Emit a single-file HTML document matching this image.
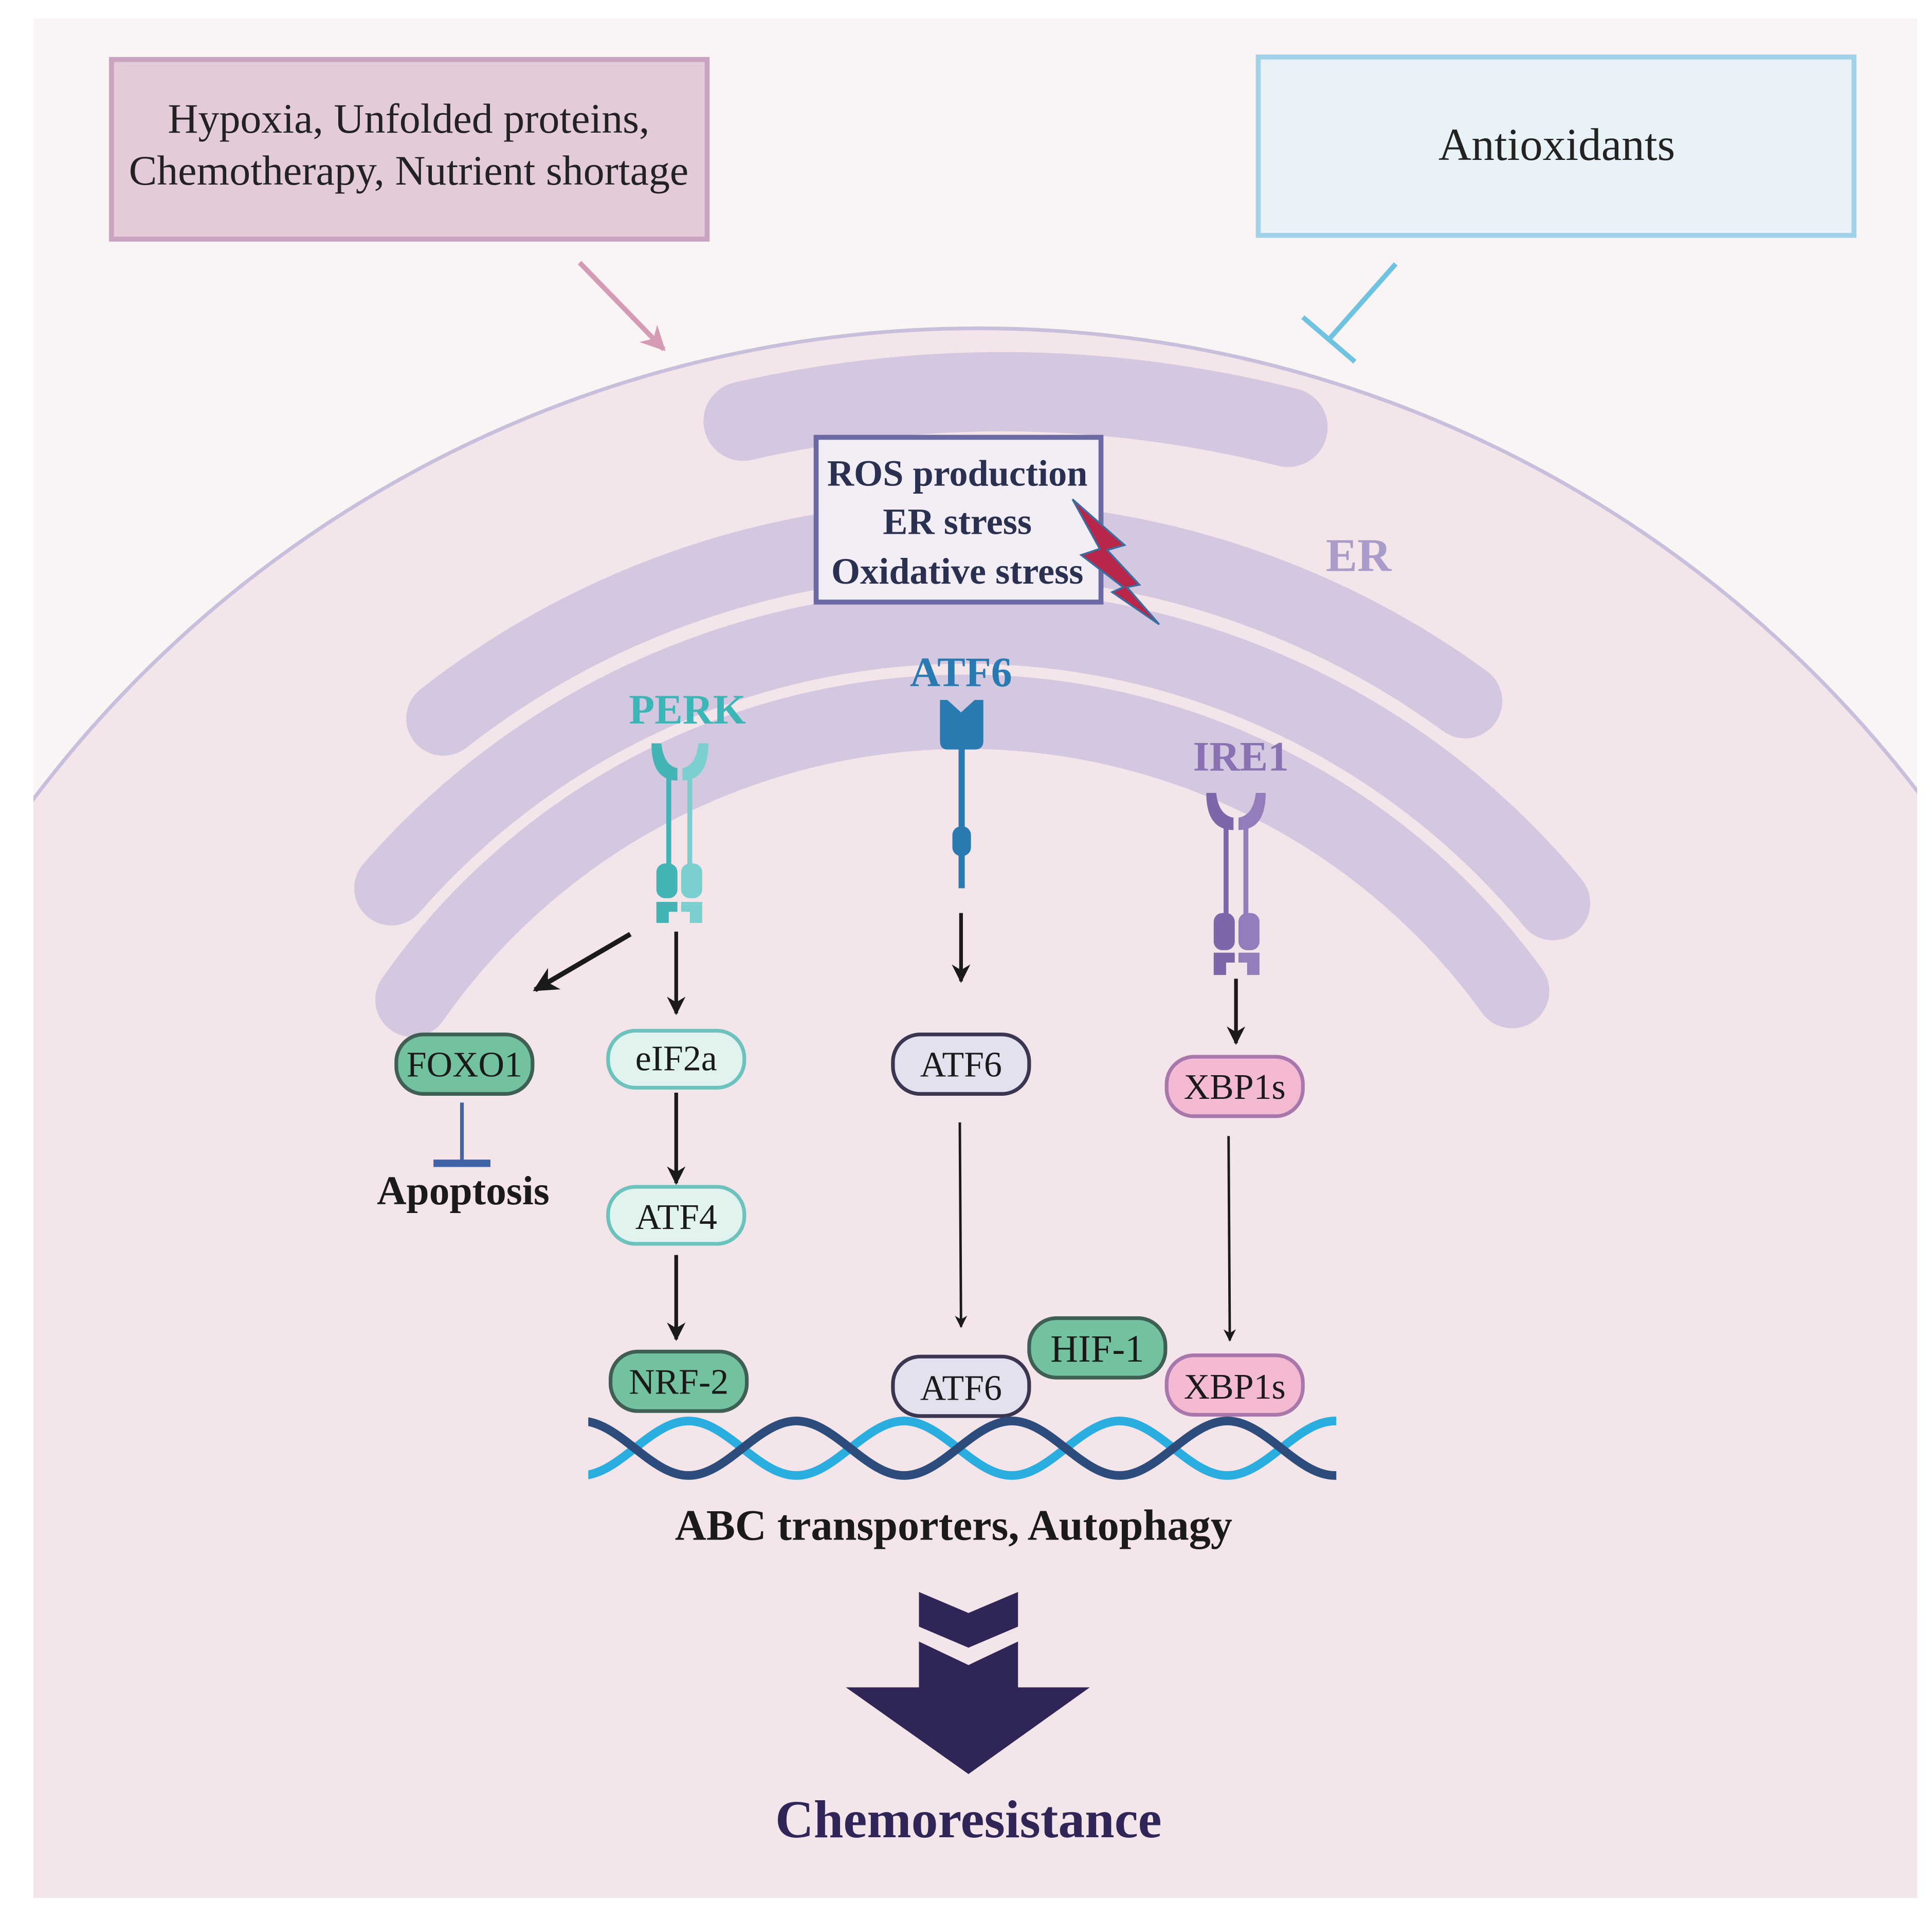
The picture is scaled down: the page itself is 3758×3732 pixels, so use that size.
<!DOCTYPE html>
<html><head><meta charset="utf-8"><style>
html,body{margin:0;padding:0;background:#fff;width:3758px;height:3732px;overflow:hidden;}
svg{display:block;position:absolute;left:0;top:0;}
text{font-family:"Liberation Serif",serif;}
</style></head><body>
<svg width="3758" height="3732" viewBox="0 0 1560 1549" preserveAspectRatio="none" xmlns="http://www.w3.org/2000/svg">
<defs>
<clipPath id="dna"><rect x="475" y="1130" width="604" height="80"/></clipPath>
<clipPath id="panel"><rect x="27" y="15" width="1521" height="1517"/></clipPath>
<marker id="ah" viewBox="0 0 10 10" refX="9" refY="5" markerWidth="5" markerHeight="6" orient="auto" markerUnits="strokeWidth"><path d="M0,0 L10,5 L0,10 L3,5 z" fill="#1a1a1a"/></marker>
<marker id="ahp" viewBox="0 0 10 10" refX="9" refY="5" markerWidth="5" markerHeight="5" orient="auto" markerUnits="strokeWidth"><path d="M0,0 L10,5 L0,10 L3,5 z" fill="#d59ab4"/></marker>
</defs>
<rect x="0" y="0" width="1560" height="1549" fill="#fff"/>
<rect x="27" y="15" width="1521" height="1517" fill="#fbf4f4"/>
<g clip-path="url(#panel)">
<circle cx="790" cy="1221" r="956" fill="#f4e5ea" stroke="#c8bfdc" stroke-width="3"/>
<rect x="27" y="1300" width="1521" height="232" fill="#f4e5ea"/>
</g>
<!-- ER bands -->
<g fill="none" stroke="#d4c7e0" stroke-linecap="round">
<path d="M333,807 A545,545 0 0 1 1221,800" stroke-width="60"/>
<path d="M316,717 A615,615 0 0 1 1254,729" stroke-width="60"/>
<path d="M358,580 A685,685 0 0 1 1183,566" stroke-width="60"/>
<path d="M600,340 Q820,290 1040,345" stroke-width="64"/>
</g>
<text x="1097" y="461" font-size="38" font-weight="bold" fill="#a99cc8" text-anchor="middle">ER</text>
<!-- top boxes -->
<rect x="90" y="48" width="481" height="145" fill="#e3cbd9" stroke="#c9a3c0" stroke-width="4"/>
<text x="330" y="107" font-size="34" fill="#222" text-anchor="middle">Hypoxia, Unfolded proteins,</text>
<text x="330" y="149" font-size="34" fill="#222" text-anchor="middle">Chemotherapy, Nutrient shortage</text>
<rect x="1016" y="46" width="481" height="144" fill="#e9f2f7" stroke="#a2d2e9" stroke-width="4"/>
<text x="1257" y="129" font-size="37" fill="#222" text-anchor="middle">Antioxidants</text>
<line x1="468" y1="212" x2="536" y2="282" stroke="#d59ab4" stroke-width="4" marker-end="url(#ahp)"/>
<line x1="1127" y1="213" x2="1073" y2="274" stroke="#6fc3e0" stroke-width="4"/>
<line x1="1052" y1="256" x2="1094" y2="292" stroke="#6fc3e0" stroke-width="4"/>
<!-- ROS box -->
<rect x="659" y="353" width="230" height="133" fill="#f3eef5" stroke="#6c6aa6" stroke-width="4"/>
<g font-size="30" font-weight="bold" fill="#2a3150" text-anchor="middle">
<text x="773" y="392">ROS production</text>
<text x="773" y="431">ER stress</text>
<text x="773" y="471">Oxidative stress</text>
</g>
<path d="M866,403 L908,440 L894,444 L920,472 L910,474 L936,504 L898,478 L907,474 L873,448 L888,443 Z" fill="#b8264a" stroke="#3a6ea0" stroke-width="1.5"/>
<!-- PERK -->
<text x="555" y="584" font-size="34" font-weight="bold" fill="#3bb5b5" text-anchor="middle">PERK</text>
<g fill="#43b4b6">
<path d="M526,600 Q526,630 547,630 L547,620 Q536,618 534,600 Z"/>
<path d="M572,600 Q572,630 551,630 L551,620 Q562,618 564,600 Z" fill="#7ccfcf"/>
<rect x="538" y="625" width="4" height="75"/><rect x="555" y="625" width="4" height="75" fill="#7ccfcf"/>
<rect x="530" y="697" width="17" height="28" rx="7"/><rect x="550" y="697" width="17" height="28" rx="7" fill="#7ccfcf"/>
<path d="M530,728 L547,728 L547,736 L540,736 L540,745 L530,745 Z"/>
<path d="M550,728 L567,728 L567,745 L557,745 L557,736 L550,736 Z" fill="#7ccfcf"/>
</g>
<!-- ATF6 receptor -->
<text x="776" y="554" font-size="34" font-weight="bold" fill="#2a7ab2" text-anchor="middle">ATF6</text>
<g fill="#2a7ab2">
<path d="M759,565 L765,565 L776,575 L787,565 L794,565 L794,598 Q794,605 787,605 L765,605 Q759,605 759,598 Z"/>
<rect x="774" y="604" width="5" height="113"/>
<rect x="769" y="667" width="15" height="24" rx="7"/>
</g>
<!-- IRE1 -->
<text x="1002" y="622" font-size="34" font-weight="bold" fill="#8a72b2" text-anchor="middle">IRE1</text>
<g fill="#7f66aa">
<path d="M974,640 Q974,670 996,670 L996,660 Q984,658 982,640 Z"/>
<path d="M1022,640 Q1022,670 1000,670 L1000,660 Q1012,658 1014,640 Z" fill="#957cbb"/>
<rect x="988" y="665" width="4" height="75"/><rect x="1004" y="665" width="4" height="75" fill="#957cbb"/>
<rect x="980" y="737" width="17" height="30" rx="7"/><rect x="1000" y="737" width="17" height="30" rx="7" fill="#957cbb"/>
<path d="M980,769 L997,769 L997,777 L990,777 L990,787 L980,787 Z"/>
<path d="M1000,769 L1017,769 L1017,787 L1007,787 L1007,777 L1000,777 Z" fill="#957cbb"/>
</g>
<!-- arrows -->
<g stroke="#1a1a1a" stroke-width="3" fill="none" marker-end="url(#ah)">
<line x1="509" y1="754" x2="432" y2="799" stroke-width="4"/>
<line x1="546" y1="752" x2="546" y2="818"/>
<line x1="776" y1="737" x2="776" y2="792"/>
<line x1="998" y1="790" x2="998" y2="842"/>
<line x1="546" y1="882" x2="546" y2="955"/>
<line x1="546" y1="1013" x2="546" y2="1081"/>
<line x1="775" y1="906" x2="776" y2="1071" stroke-width="2"/>
<line x1="992" y1="917" x2="993" y2="1082" stroke-width="2"/>
</g>
<line x1="373" y1="890" x2="373" y2="938" stroke="#4064a8" stroke-width="3"/>
<line x1="350" y1="939" x2="396" y2="939" stroke="#4064a8" stroke-width="6"/>
<text x="374" y="972" font-size="33" font-weight="bold" fill="#1a1a1a" text-anchor="middle">Apoptosis</text>
<!-- nodes -->
<g stroke-width="3" font-size="29" text-anchor="middle">
<rect x="320" y="835" width="110" height="48" rx="22" fill="#72c2a0" stroke="#3f5e55"/>
<text x="375" y="869" fill="#1a1a1a" stroke="none">FOXO1</text>
<rect x="491" y="832" width="110" height="46" rx="22" fill="#e0f3ef" stroke="#6cc2bd"/>
<text x="546" y="864" fill="#1a1a1a" stroke="none">eIF2a</text>
<rect x="721" y="835" width="110" height="48" rx="22" fill="#e2e1ee" stroke="#3a3550"/>
<text x="776" y="869" fill="#1a1a1a" stroke="none">ATF6</text>
<rect x="942" y="853" width="110" height="48" rx="22" fill="#f3bad2" stroke="#a878ac"/>
<text x="997" y="887" fill="#1a1a1a" stroke="none">XBP1s</text>
<rect x="491" y="958" width="110" height="46" rx="22" fill="#e0f3ef" stroke="#6cc2bd"/>
<text x="546" y="992" fill="#1a1a1a" stroke="none">ATF4</text>
<rect x="493" y="1091" width="110" height="48" rx="22" fill="#72c2a0" stroke="#3f5e55"/>
<text x="548" y="1125" fill="#1a1a1a" stroke="none">NRF-2</text>
<rect x="721" y="1095" width="110" height="48" rx="22" fill="#e2e1ee" stroke="#3a3550"/>
<text x="776" y="1130" fill="#1a1a1a" stroke="none">ATF6</text>
<rect x="831" y="1064" width="110" height="48" rx="22" fill="#72c2a0" stroke="#3f5e55"/>
<text x="886" y="1099" fill="#1a1a1a" stroke="none" font-size="31">HIF-1</text>
<rect x="942" y="1094" width="110" height="48" rx="22" fill="#f3bad2" stroke="#a878ac"/>
<text x="997" y="1129" fill="#1a1a1a" stroke="none">XBP1s</text>
</g>
<!-- DNA -->
<g clip-path="url(#dna)" fill="none" stroke-width="7">
<path stroke="#2aaee0" d="M469,1191 C500,1191 525,1147 556,1147 C587,1147 612,1191 643,1191 C674,1191 699,1147 730,1147 C761,1147 786,1191 817,1191 C848,1191 873,1147 904,1147 C935,1147 960,1191 991,1191 C1022,1191 1047,1147 1078,1147 C1109,1147 1134,1191 1165,1191"/>
<path stroke="#2c4d7c" d="M469,1147 C500,1147 525,1191 556,1191 C587,1191 612,1147 643,1147 C674,1147 699,1191 730,1191 C761,1191 786,1147 817,1147 C848,1147 873,1191 904,1191 C935,1191 960,1147 991,1147 C1022,1147 1047,1191 1078,1191 C1109,1191 1134,1147 1165,1147"/>
</g>
<text x="770" y="1243" font-size="35" font-weight="bold" fill="#1a1a1a" text-anchor="middle">ABC transporters, Autophagy</text>
<!-- big arrow -->
<g fill="#2f2557">
<path d="M742,1285 L782,1302 L822,1285 L822,1313 L782,1330 L742,1313 Z"/>
<path d="M742,1325 L782,1344 L822,1325 L822,1362 L880,1362 L782,1432 L683,1362 L742,1362 Z"/>
</g>
<text x="782" y="1483" font-size="43" font-weight="bold" fill="#2f2557" text-anchor="middle">Chemoresistance</text>
</svg>
</body></html>
